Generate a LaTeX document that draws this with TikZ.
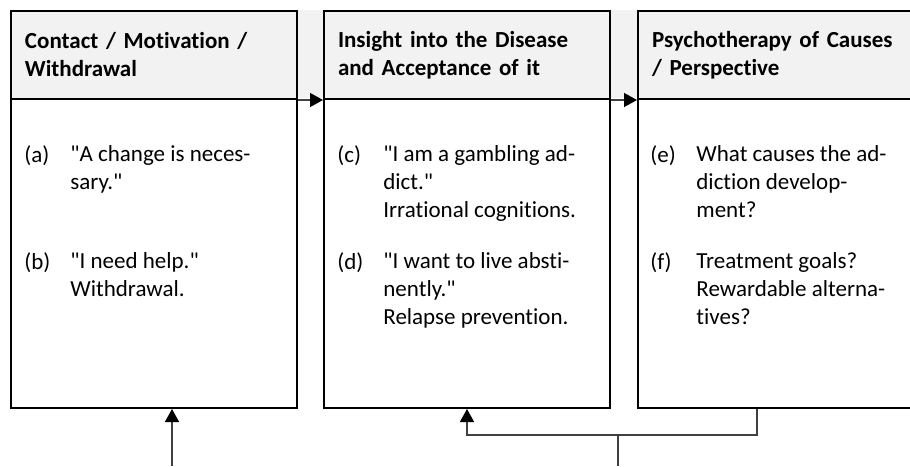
\documentclass[tikz,border=0pt]{standalone}
\usepackage{fontspec}
\setmainfont{Carlito}[Ligatures={CommonOff}]
\usetikzlibrary{arrows.meta,positioning}
\newcommand{\qt}{\textquotedbl}

\begin{document}
\begin{tikzpicture}[x=0.5pt, y=-0.5pt,
  >={Triangle[length=6.5pt, width=7pt, color=black]},
  box/.style={draw, line width=1pt, inner sep=0pt, anchor=north west,
    minimum width=143pt, minimum height=198.5pt},
  head/.style={box, fill=black!5, minimum height=44pt, inner xsep=7pt,
    text width=129pt, align=left, font=\fontsize{11.5}{14}\selectfont\bfseries},
  txt/.style={anchor=north west, inner sep=0pt, align=left,
    font=\fontsize{11.5}{14}\selectfont},
  link/.style={->, line width=0.7pt, draw=black!75},
  wire/.style={line width=0.7pt, draw=black!75}]
  \useasboundingbox (0,0) rectangle (910,466);
  \fill[black!5] (10,10) rectangle (925,98);
  \node[box] (b1) at (10,10) {};
  \node[box] (b2) at (323,10) {};
  \node[box] (b3) at (637,10) {};
  \node[head] (h1) at (10,10) {Contact / Motivation /\\Withdrawal};
  \node[head] (h2) at (323,10) {Insight into the Disease\\and Acceptance of it};
  \node[head] (h3) at (637,10) {Psychotherapy of Causes\\/ Perspective};
  \foreach \x/\y/\l/\t in {
      24/145/a/{\qt A change is neces-\\sary.\qt},
      24/252/b/{\qt I need help.\qt\\Withdrawal.},
      337/145/c/{\qt I am a gambling ad-\\dict.\qt\\Irrational cognitions.},
      337/252/d/{\qt I want to live absti-\\nently.\qt\\Relapse prevention.},
      650/145/e/{What causes the ad-\\diction develop-\\ment?},
      650/252/f/{Treatment goals?\\Rewardable alterna-\\tives?}} {
    \node[txt] (l\l) at (\x,\y) {(\l)};
    \node[txt] (t\l) at (\x+46,\y) {\t};
  }
  \draw[link] (h1.south east) -- (h2.south west);
  \draw[link] (h2.south east) -- (h3.south west);
  \coordinate (in1) at (172,466);
  \coordinate (in2) at (618,466);
  \coordinate (j) at (618,435);
  \draw[link] (in1) -- (in1 |- b1.south);
  \draw[link] (b3.south -| 757,0) |- (j -| b2.south) -- (b2.south);
  \draw[wire] (j) -- (in2);
\end{tikzpicture}
\end{document}
